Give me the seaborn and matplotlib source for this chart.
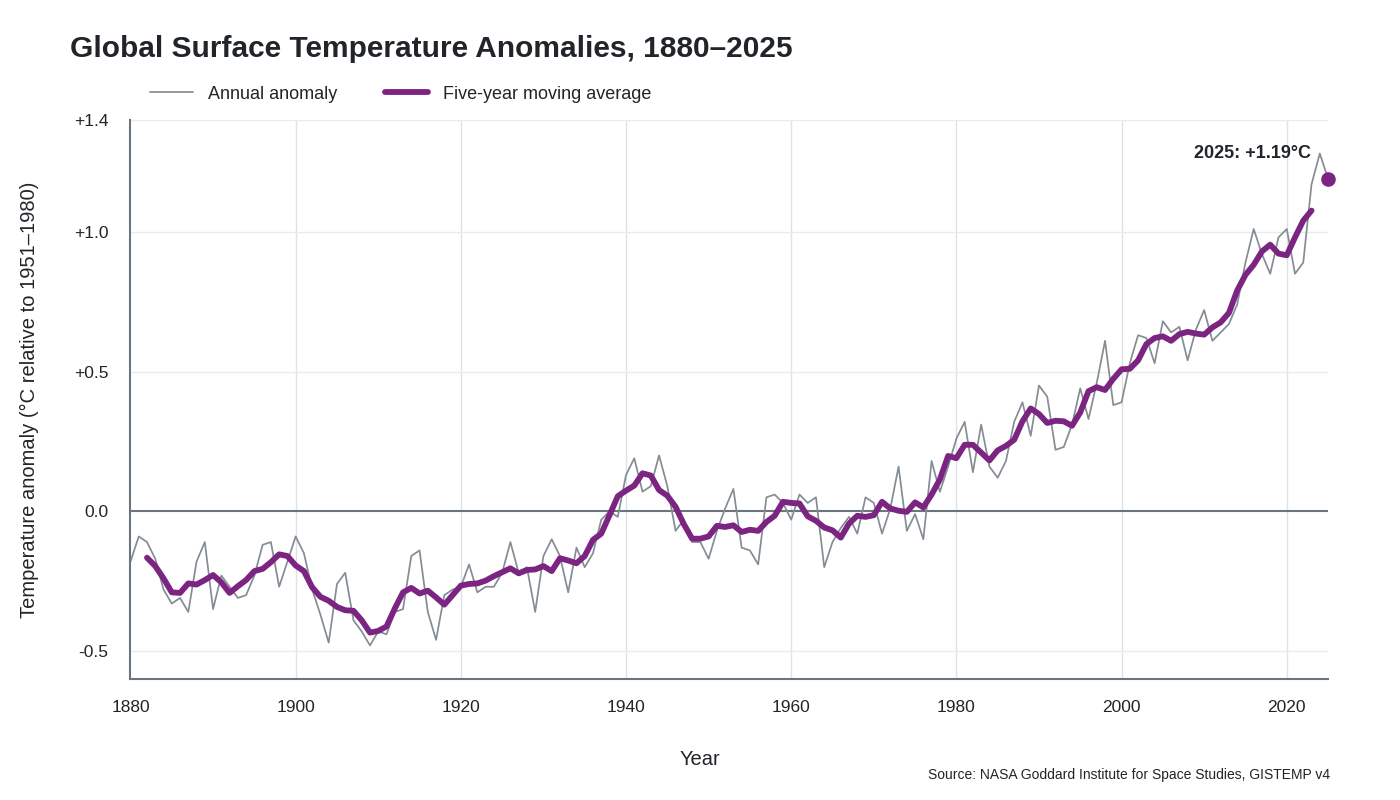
import numpy as np
import pandas as pd
import matplotlib.pyplot as plt
import seaborn as sns

# ---- data (GISTEMP v4 annual anomalies) ----
years = list(range(1880, 2026))
anomaly = [
    -0.18, -0.09, -0.11, -0.17, -0.28, -0.33, -0.31, -0.36, -0.18, -0.11,
    -0.35, -0.23, -0.27, -0.31, -0.30, -0.23, -0.12, -0.11, -0.27, -0.18,
    -0.09, -0.15, -0.28, -0.37, -0.47, -0.26, -0.22, -0.39, -0.43, -0.48,
    -0.43, -0.44, -0.36, -0.35, -0.16, -0.14, -0.36, -0.46, -0.30, -0.28,
    -0.27, -0.19, -0.29, -0.27, -0.27, -0.22, -0.11, -0.22, -0.20, -0.36,
    -0.16, -0.10, -0.16, -0.29, -0.13, -0.20, -0.15, -0.03, -0.00, -0.02,
    0.13, 0.19, 0.07, 0.09, 0.20, 0.09, -0.07, -0.03, -0.11, -0.11,
    -0.17, -0.07, 0.01, 0.08, -0.13, -0.14, -0.19, 0.05, 0.06, 0.03,
    -0.03, 0.06, 0.03, 0.05, -0.20, -0.11, -0.06, -0.02, -0.08, 0.05,
    0.03, -0.08, 0.01, 0.16, -0.07, -0.01, -0.10, 0.18, 0.07, 0.16,
    0.26, 0.32, 0.14, 0.31, 0.16, 0.12, 0.18, 0.32, 0.39, 0.27,
    0.45, 0.41, 0.22, 0.23, 0.31, 0.44, 0.33, 0.46, 0.61, 0.38,
    0.39, 0.53, 0.63, 0.62, 0.53, 0.68, 0.64, 0.66, 0.54, 0.65,
    0.72, 0.61, 0.64, 0.67, 0.74, 0.89, 1.01, 0.92, 0.85, 0.98,
    1.01, 0.85, 0.89, 1.17, 1.28, 1.19,
]

ytick_vals = [-0.5, 0.0, 0.5, 1.0, 1.4]
ytick_labels = ["-0.5", "0.0", "+0.5", "+1.0", "+1.4"]
xtick_vals = [1880, 1900, 1920, 1940, 1960, 1980, 2000, 2020]

df = pd.DataFrame({"year": years, "anomaly": anomaly})
# centred five-year mean, undefined for the two years at each end
df["ma5"] = df["anomaly"].rolling(5, center=True).mean()

# ---- style ----
PURPLE = "#7b2482"
GRAY = "#848c94"
AXIS = "#6c757d"
DARK = "#212529"

sns.set_theme(style="white")
plt.rcParams["font.family"] = ["Liberation Sans", "DejaVu Sans"]

fig = plt.figure(figsize=(14, 8), dpi=100)
ax = fig.add_axes([0.0932, 0.15125, 0.8554, 0.69875])

sns.lineplot(data=df, x="year", y="anomaly", ax=ax, color=GRAY, linewidth=1.25,
             label="Annual anomaly")
sns.lineplot(data=df.dropna(), x="year", y="ma5", ax=ax, color=PURPLE, linewidth=4.2,
             label="Five-year moving average")

# grid + zero line
for xv in xtick_vals[1:]:
    ax.axvline(xv, color="#dee2e6", linewidth=1, zorder=0)
for yv in ytick_vals:
    if yv != 0:
        ax.axhline(yv, color="#e9ecef", linewidth=1, zorder=0)
ax.axhline(0, color=AXIS, linewidth=1.5, zorder=1)

# latest point
last_year, last_val = years[-1], anomaly[-1]
ax.scatter([last_year], [last_val], s=90, color=PURPLE, zorder=5, clip_on=False)
ax.annotate(f"{last_year}: +{last_val:.2f}°C", (last_year, last_val),
            xytext=(-12, 18.5), textcoords="offset points", ha="right", va="center",
            fontsize=13, fontweight="bold", color=DARK)

ax.set_xlim(1880, 2025)
ax.set_ylim(-0.6, 1.4)
ax.set_xticks(xtick_vals)
ax.set_yticks(ytick_vals)
ax.set_yticklabels(ytick_labels)
ax.tick_params(axis="both", length=0, labelsize=12.5, colors=DARK)
ax.tick_params(axis="y", pad=16)
ax.tick_params(axis="x", pad=15)

sns.despine(ax=ax)
for s in ["left", "bottom"]:
    ax.spines[s].set_color(AXIS)
    ax.spines[s].set_linewidth(1.5)

ax.set_xlabel("Year", fontsize=14.5, color=DARK)
ax.xaxis.set_label_coords(0.4755, -0.127)
ax.set_ylabel("Temperature anomaly (°C relative to 1951–1980)", fontsize=14.5,
              color=DARK, labelpad=25)

fig.text(0.05, 0.939, "Global Surface Temperature Anomalies, 1880–2025",
         fontsize=21.5, fontweight="bold", color=DARK, ha="left", va="center")

ax.legend(loc="lower left", bbox_to_anchor=(0.01, 1.018), ncol=2, frameon=False,
          fontsize=13, handlelength=2.4, handletextpad=0.85, columnspacing=2.6,
          borderaxespad=0, labelcolor=DARK)

fig.text(0.95, 0.031, "Source: NASA Goddard Institute for Space Studies, GISTEMP v4",
         fontsize=10, color=DARK, ha="right", va="center")

fig.savefig("out.png", dpi=100)
